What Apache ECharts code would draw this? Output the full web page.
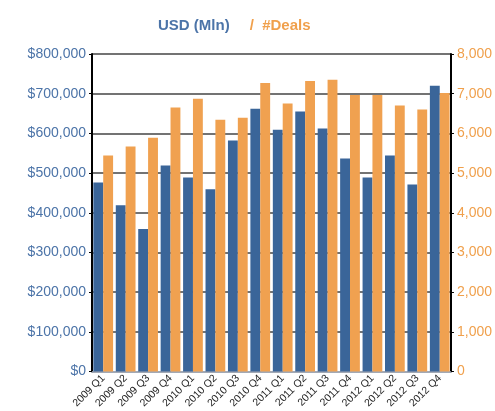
<!DOCTYPE html>
<html>
<head>
<meta charset="utf-8">
<script src="https://cdn.jsdelivr.net/npm/echarts@6/dist/echarts.min.js"></script>
<style>
  html, body { margin: 0; padding: 0; background: #fff; }
  #chart { width: 495px; height: 411px; }
</style>
</head>
<body>
<div id="chart"></div>
<script>
// quarters on the x axis
const quarters = ['2009 Q1', '2009 Q2', '2009 Q3', '2009 Q4',
                  '2010 Q1', '2010 Q2', '2010 Q3', '2010 Q4',
                  '2011 Q1', '2011 Q2', '2011 Q3', '2011 Q4',
                  '2012 Q1', '2012 Q2', '2012 Q3', '2012 Q4'];

// USD (Mln), left axis
const usdValues = [476000, 419000, 359000, 519000,
                   489000, 459000, 582000, 662000,
                   609000, 655000, 612000, 537000,
                   489000, 544000, 471000, 720000];

// number of deals, right axis
const dealValues = [5440, 5670, 5890, 6650,
                    6870, 6345, 6395, 7270,
                    6750, 7320, 7350, 6970,
                    6970, 6700, 6600, 7020];

const blue = '#3a6599';
const orange = '#f0a150';
const blueText = '#4c74a8';
const orangeText = '#f0a04c';

let el = document.getElementById('chart');
let myChart = echarts.init(el);

function money(v) {
    return '$' + v.toLocaleString('en-US');
}

myChart.setOption({
    animation: false,
    textStyle: { fontFamily: 'Liberation Sans' },
    title: {
        text: '{a|USD (Mln)}    {b|/  #Deals}',
        left: 153,
        top: 12,
        textStyle: {
            rich: {
                a: { color: blueText, fontSize: 15, fontWeight: 'bold', fontFamily: 'Liberation Sans' },
                b: { color: orangeText, fontSize: 15, fontWeight: 'bold', fontFamily: 'Liberation Sans' }
            }
        }
    },
    grid: { left: 92, right: 44, top: 54, bottom: 38 },
    xAxis: {
        type: 'category',
        data: quarters,
        axisLine: { lineStyle: { color: '#b3bccb', width: 1.5 } },
        axisTick: { show: false },
        axisLabel: {
            interval: 0,
            rotate: 45,
            fontSize: 10.5,
            color: '#222',
            margin: 5
        }
    },
    yAxis: [{
        type: 'value',
        min: 0,
        max: 800000,
        interval: 100000,
        position: 'left',
        axisLine: { show: true, lineStyle: { color: '#000', width: 2 } },
        axisTick: { show: true, length: 3, lineStyle: { color: '#000' } },
        axisLabel: { color: blueText, fontSize: 14, formatter: money, margin: 6 },
        splitLine: { show: true, lineStyle: { color: '#444', width: 1.5 } }
    }, {
        type: 'value',
        min: 0,
        max: 8000,
        interval: 1000,
        position: 'right',
        axisLine: { show: true, lineStyle: { color: '#000', width: 2 } },
        axisTick: { show: true, length: 3, lineStyle: { color: '#000' } },
        axisLabel: {
            color: orangeText, fontSize: 14, margin: 6,
            formatter: (v) => v.toLocaleString('en-US')
        },
        splitLine: { show: false }
    }],
    series: [{
        name: 'USD (Mln)',
        type: 'bar',
        yAxisIndex: 0,
        data: usdValues,
        itemStyle: { color: blue },
        barGap: '0%',
        barCategoryGap: '12%'
    }, {
        name: '#Deals',
        type: 'bar',
        yAxisIndex: 1,
        data: dealValues,
        itemStyle: { color: orange }
    }]
});
</script>
</body>
</html>
